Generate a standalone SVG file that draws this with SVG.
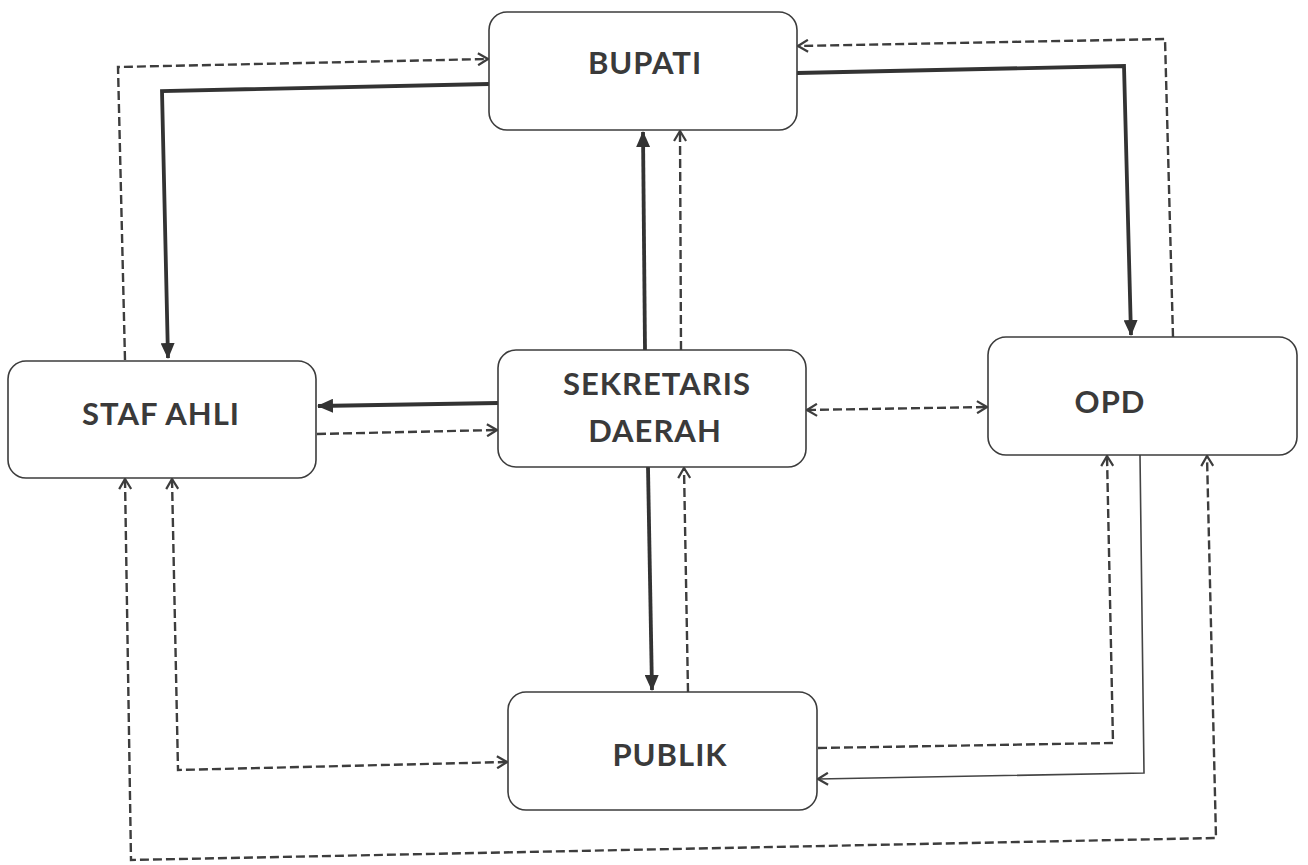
<svg xmlns="http://www.w3.org/2000/svg" width="1308" height="865" viewBox="0 0 1308 865">
<style>
.box{fill:#fff;stroke:#3c3c3c;stroke-width:1.6}
.lbl{font-family:Lato,"Open Sans","Liberation Sans",sans-serif;font-weight:bold;font-size:31px;letter-spacing:1px;fill:#3a3a3a;text-anchor:middle}
.s{fill:none;stroke:#333;stroke-width:3.8}
.t{fill:none;stroke:#444;stroke-width:1.6}
.d{fill:none;stroke:#3d3d3d;stroke-width:2.4;stroke-dasharray:9 4}
</style>
<defs>
<marker id="fa" viewBox="0 0 16 14" markerUnits="userSpaceOnUse" markerWidth="16" markerHeight="14" refX="15" refY="7" orient="auto">
<path d="M0,0 L16,7 L0,14 z" fill="#333"/>
</marker>
<marker id="oa" viewBox="0 0 12 14" markerUnits="userSpaceOnUse" markerWidth="12" markerHeight="14" refX="11" refY="7" orient="auto-start-reverse">
<path d="M1,1 L11,7 L1,13" fill="none" stroke="#3d3d3d" stroke-width="2.2" stroke-dasharray="none"/>
</marker>
</defs>
<g id="connectors">
<path class="s" d="M489,84 L162,91 L168,358" marker-end="url(#fa)"/>
<path class="s" d="M797,73 L1124,66 L1131,335" marker-end="url(#fa)"/>
<path class="s" d="M645,350 L643,132" marker-end="url(#fa)"/>
<path class="s" d="M498,403 L318,406" marker-end="url(#fa)"/>
<path class="s" d="M648,467 L652,690" marker-end="url(#fa)"/>
<path class="t" d="M1140,455 L1144,773 L818,779" marker-end="url(#oa)"/>
<path class="d" d="M125,360 L118,67 L488,59" marker-end="url(#oa)"/>
<path class="d" d="M1173,337 L1165,39 L798,46" marker-end="url(#oa)"/>
<path class="d" d="M681,350 L680,131" marker-end="url(#oa)"/>
<path class="d" d="M317,434 L497,430" marker-end="url(#oa)"/>
<path class="d" d="M807,410 L987,407" marker-start="url(#oa)" marker-end="url(#oa)"/>
<path class="d" d="M688,692 L684,468" marker-end="url(#oa)"/>
<path class="d" d="M172,479 L178,770 L507,762" marker-start="url(#oa)" marker-end="url(#oa)"/>
<path class="d" d="M125,479 L131,860 L1216,838 L1207,456" marker-start="url(#oa)" marker-end="url(#oa)"/>
<path class="d" d="M818,748 L1113,743 L1107,456" marker-end="url(#oa)"/>
</g>
<g id="bupati">
<rect class="box" x="489" y="12" width="308" height="118" rx="18"/>
<text class="lbl" x="645" y="74">BUPATI</text>
</g>
<g id="staf-ahli">
<rect class="box" x="8" y="361" width="308" height="117" rx="18"/>
<text class="lbl" x="161" y="425">STAF AHLI</text>
</g>
<g id="sekretaris-daerah">
<rect class="box" x="498" y="350" width="308" height="117" rx="18"/>
<text class="lbl" x="657" y="395">SEKRETARIS</text>
<text class="lbl" x="655" y="442">DAERAH</text>
</g>
<g id="opd">
<rect class="box" x="988" y="337" width="309" height="118" rx="18"/>
<text class="lbl" x="1110" y="413">OPD</text>
</g>
<g id="publik">
<rect class="box" x="508" y="692" width="309" height="118" rx="18"/>
<text class="lbl" x="670" y="766">PUBLIK</text>
</g>
</svg>
